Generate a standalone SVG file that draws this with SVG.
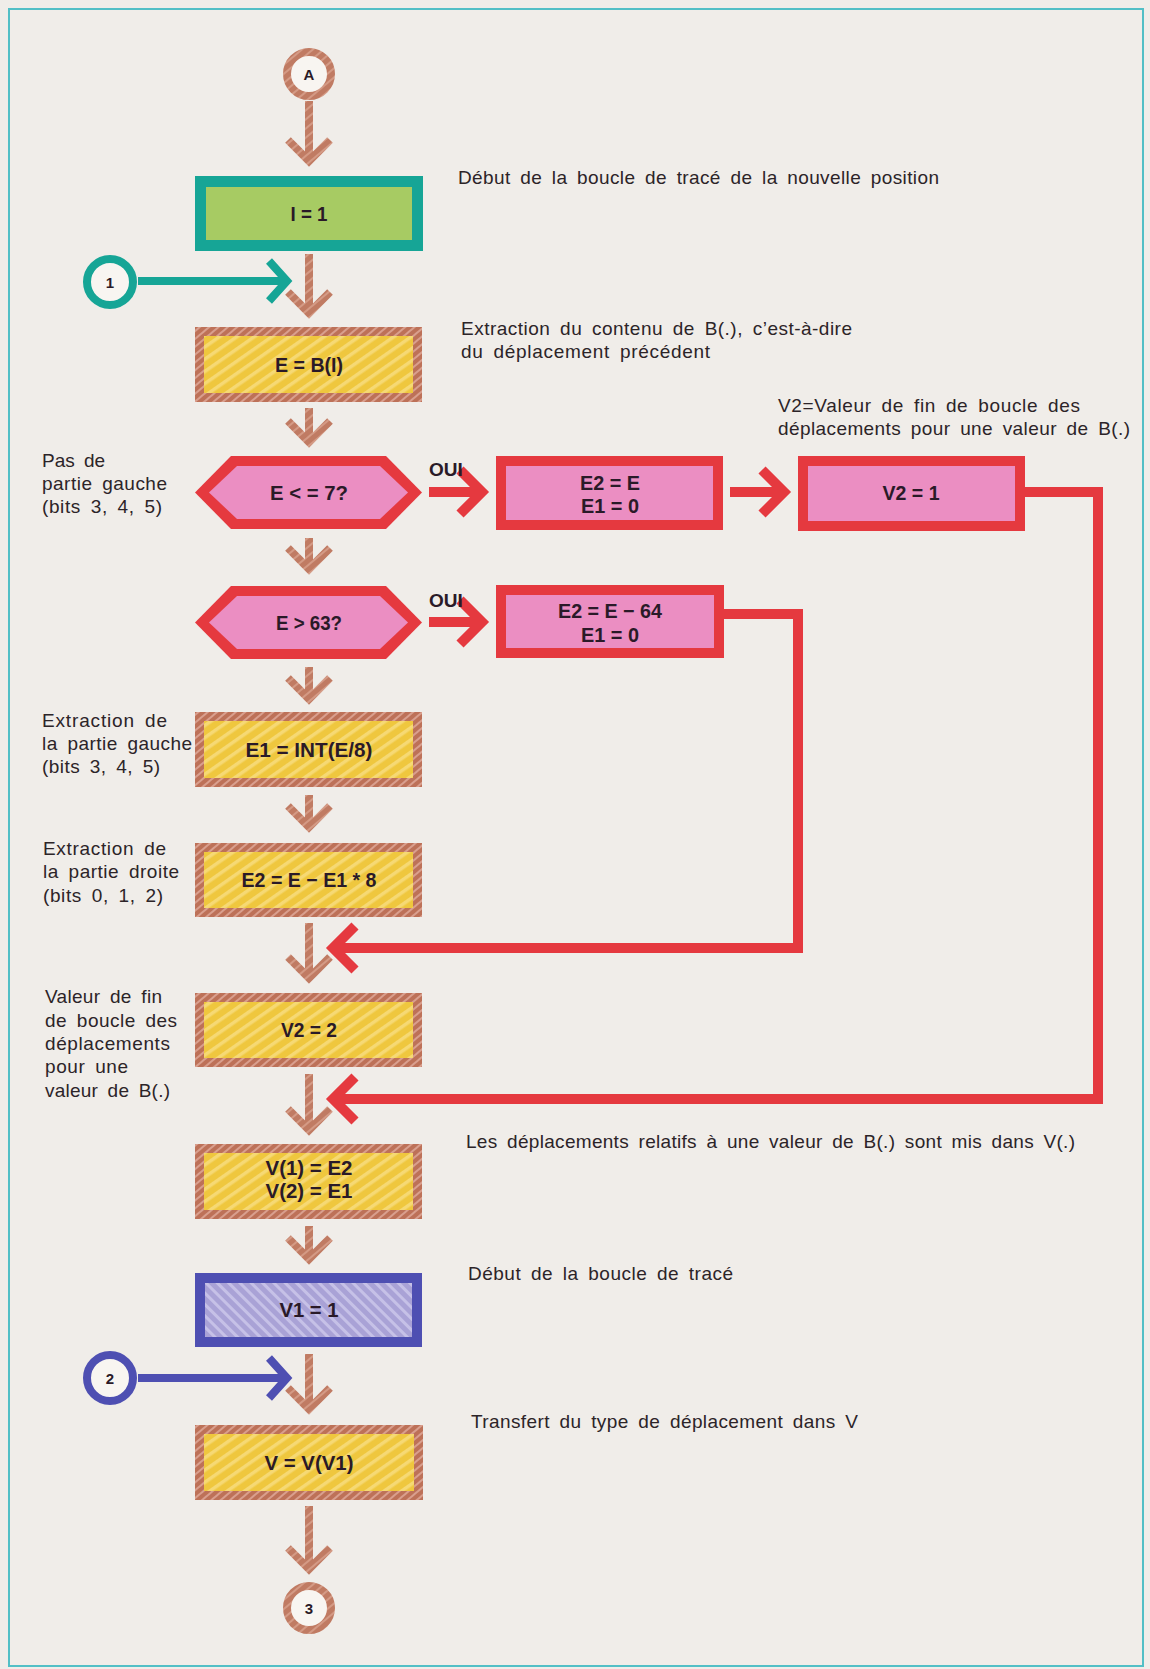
<svg xmlns="http://www.w3.org/2000/svg" width="1150" height="1669" viewBox="0 0 1150 1669">
  <defs>
    <!-- hatched fills -->
    <pattern id="yel" width="10" height="10" patternUnits="userSpaceOnUse" patternTransform="rotate(-35)">
      <rect width="10" height="10" fill="#efc73e"/>
      <rect width="10" height="3.5" fill="#f6d974"/>
    </pattern>
    <pattern id="brn" width="6" height="6" patternUnits="userSpaceOnUse" patternTransform="rotate(-40)">
      <rect width="6" height="6" fill="#bd7158"/>
      <rect width="6" height="2" fill="#d99f8e"/>
    </pattern>
    <pattern id="brnA" width="7" height="7" patternUnits="userSpaceOnUse" patternTransform="rotate(-40)">
      <rect width="7" height="7" fill="#c07b63"/>
      <rect width="7" height="2" fill="#d49a85"/>
    </pattern>
    <pattern id="lav" width="8" height="8" patternUnits="userSpaceOnUse" patternTransform="rotate(45)">
      <rect width="8" height="8" fill="#a9a2d6"/>
      <rect width="8" height="3" fill="#c6c1e7"/>
    </pattern>
    <style>
      .lbl { font-family: "Liberation Sans", Arial, sans-serif; font-size: 19px; word-spacing: 4px; fill: #2c2428; }
      .bx { font-family: "Liberation Sans", Arial, sans-serif; font-weight: bold; font-size: 20px; fill: #2a1a28; text-anchor: middle; }
      .cn { font-family: "Liberation Sans", Arial, sans-serif; font-weight: bold; font-size: 15px; fill: #2a1a28; text-anchor: middle; }
      .oui { font-family: "Liberation Sans", Arial, sans-serif; font-weight: bold; font-size: 19px; fill: #2a1a28; }
      .brnB { fill: url(#brn); }
      .yelF { fill: url(#yel); }
      .redB { fill: #e5393f; }
      .pinkF { fill: #eb8ec2; }
      .flow { fill: none; stroke: url(#brnA); stroke-width: 8; stroke-linejoin: miter; }
      .red { fill: none; stroke: #e5393f; stroke-width: 10; stroke-linejoin: miter; }
      .teal { fill: none; stroke: #16a596; stroke-width: 8; }
      .blue { fill: none; stroke: #4e4fb2; stroke-width: 8; }
      .ring { fill: #f8f5f1; stroke-width: 8; }
    </style>
  </defs>

  <!-- page -->
  <rect width="1150" height="1669" fill="#f0ede9"/>
  <rect x="9" y="9" width="1134" height="1657" fill="none" stroke="#52bfc6" stroke-width="2"/>

  <!-- connectors -->
  <g id="connectors">
    <path class="flow" d="M309 101 V161 M288 140 L309 161 L330 140"/>
    <path class="flow" d="M309 254 V313 M288 292 L309 313 L330 292"/>
    <path class="flow" d="M309 408 V442 M288 421 L309 442 L330 421"/>
    <path class="flow" d="M309 538 V569 M288 548 L309 569 L330 548"/>
    <path class="flow" d="M309 667 V699 M288 678 L309 699 L330 678"/>
    <path class="flow" d="M309 795 V827 M288 806 L309 827 L330 806"/>
    <path class="flow" d="M309 923 V978 M288 957 L309 978 L330 957"/>
    <path class="flow" d="M309 1074 V1130 M288 1109 L309 1130 L330 1109"/>
    <path class="flow" d="M309 1226 V1259 M288 1238 L309 1259 L330 1238"/>
    <path class="flow" d="M309 1354 V1409 M288 1388 L309 1409 L330 1388"/>
    <path class="flow" d="M309 1506 V1569 M288 1548 L309 1569 L330 1548"/>

    <path class="teal" d="M138 281 H286 M269 261 L287 281 L269 301"/>
    <path class="blue" d="M138 1378 H286 M269 1358 L287 1378 L269 1398"/>

    <path class="red" d="M429 492 H482 M460 470 L482 492 L460 514"/>
    <path class="red" d="M429 622 H482 M460 600 L482 622 L460 644"/>
    <path class="red" d="M730 492 H784 M762 470 L784 492 L762 514"/>
    <path class="red" d="M1025 492 H1098 V1099 H334 M355 1077 L333 1099 L355 1121"/>
    <path class="red" d="M724 614 H798 V948 H334 M355 926 L333 948 L355 970"/>
    <text class="oui" x="429" y="476">OUI</text>
    <text class="oui" x="429" y="607">OUI</text>
  </g>

  <!-- connector circles -->
  <g id="start-A">
    <circle class="ring" cx="309" cy="74" r="22" stroke="url(#brnA)"/>
    <text class="cn" x="309" y="80">A</text>
  </g>
  <g id="link-1">
    <circle class="ring" cx="110" cy="282" r="23" stroke="#16a596"/>
    <text class="cn" x="110" y="288">1</text>
  </g>
  <g id="link-2">
    <circle class="ring" cx="110" cy="1378" r="23" stroke="#4e4fb2"/>
    <text class="cn" x="110" y="1384">2</text>
  </g>
  <g id="end-3">
    <circle class="ring" cx="309" cy="1608" r="22" stroke="url(#brnA)"/>
    <text class="cn" x="309" y="1614">3</text>
  </g>

  <!-- process boxes -->
  <g id="n-i1">
    <rect x="195" y="176" width="228" height="75" fill="#16a596"/>
    <rect x="206" y="187" width="206" height="53" fill="#a7cb63"/>
    <text class="bx" x="309" y="221" textLength="37" lengthAdjust="spacingAndGlyphs">I = 1</text>
  </g>
  <g id="n-eb">
    <rect class="brnB" x="195" y="327" width="227" height="75"/>
    <rect class="yelF" x="204" y="336" width="209" height="57"/>
    <text class="bx" x="309" y="372" textLength="68" lengthAdjust="spacingAndGlyphs">E = B(I)</text>
  </g>
  <g id="n-le7">
    <polygon points="195,492.5 231,456 386,456 422,492.5 386,529 231,529" class="redB"/>
    <polygon points="209,492.5 237,466 380,466 408,492.5 380,519 237,519" class="pinkF"/>
    <text class="bx" x="309" y="500" textLength="78" lengthAdjust="spacingAndGlyphs">E &lt; = 7?</text>
  </g>
  <g id="n-gt63">
    <polygon points="195,622.5 231,586 386,586 422,622.5 386,659 231,659" class="redB"/>
    <polygon points="209,622.5 237,596 380,596 408,622.5 380,649 237,649" class="pinkF"/>
    <text class="bx" x="309" y="630" textLength="66" lengthAdjust="spacingAndGlyphs">E &gt; 63?</text>
  </g>
  <g id="n-e2e">
    <rect class="redB" x="496" y="456" width="227" height="74"/>
    <rect class="pinkF" x="506" y="466" width="207" height="54"/>
    <text class="bx" x="610" y="490" textLength="60" lengthAdjust="spacingAndGlyphs">E2 = E</text>
    <text class="bx" x="610" y="513" textLength="58" lengthAdjust="spacingAndGlyphs">E1 = 0</text>
  </g>
  <g id="n-v21">
    <rect class="redB" x="798" y="456" width="227" height="75"/>
    <rect class="pinkF" x="808" y="466" width="207" height="55"/>
    <text class="bx" x="911" y="500" textLength="57" lengthAdjust="spacingAndGlyphs">V2 = 1</text>
  </g>
  <g id="n-e64">
    <rect class="redB" x="496" y="585" width="228" height="73"/>
    <rect class="pinkF" x="506" y="595" width="208" height="53"/>
    <text class="bx" x="610" y="618" textLength="104" lengthAdjust="spacingAndGlyphs">E2 = E − 64</text>
    <text class="bx" x="610" y="642" textLength="58" lengthAdjust="spacingAndGlyphs">E1 = 0</text>
  </g>
  <g id="n-e1">
    <rect class="brnB" x="195" y="712" width="227" height="75"/>
    <rect class="yelF" x="204" y="721" width="209" height="57"/>
    <text class="bx" x="309" y="757" textLength="127" lengthAdjust="spacingAndGlyphs">E1 = INT(E/8)</text>
  </g>
  <g id="n-e2">
    <rect class="brnB" x="195" y="843" width="227" height="74"/>
    <rect class="yelF" x="204" y="852" width="209" height="56"/>
    <text class="bx" x="309" y="887" textLength="135" lengthAdjust="spacingAndGlyphs">E2 = E − E1 * 8</text>
  </g>
  <g id="n-v22">
    <rect class="brnB" x="195" y="993" width="227" height="74"/>
    <rect class="yelF" x="204" y="1002" width="209" height="56"/>
    <text class="bx" x="309" y="1037" textLength="56" lengthAdjust="spacingAndGlyphs">V2 = 2</text>
  </g>
  <g id="n-v">
    <rect class="brnB" x="195" y="1144" width="227" height="75"/>
    <rect class="yelF" x="204" y="1153" width="209" height="57"/>
    <text class="bx" x="309" y="1175" textLength="87" lengthAdjust="spacingAndGlyphs">V(1) = E2</text>
    <text class="bx" x="309" y="1198" textLength="87" lengthAdjust="spacingAndGlyphs">V(2) = E1</text>
  </g>
  <g id="n-v11">
    <rect x="195" y="1273" width="227" height="74" fill="#4e4fb2"/>
    <rect x="205" y="1283" width="207" height="54" fill="url(#lav)"/>
    <text class="bx" x="309" y="1317" textLength="59" lengthAdjust="spacingAndGlyphs">V1 = 1</text>
  </g>
  <g id="n-vv1">
    <rect class="brnB" x="195" y="1425" width="228" height="75"/>
    <rect class="yelF" x="204" y="1434" width="210" height="57"/>
    <text class="bx" x="309" y="1470" textLength="89" lengthAdjust="spacingAndGlyphs">V = V(V1)</text>
  </g>

  <!-- annotations -->
  <g id="notes">
    <text class="lbl" x="458" y="184" textLength="481">Début de la boucle de tracé de la nouvelle position</text>
    <text class="lbl" x="461" y="335" textLength="391">Extraction du contenu de B(.), c’est-à-dire</text>
    <text class="lbl" x="461" y="358" textLength="249">du déplacement précédent</text>
    <text class="lbl" x="778" y="412" textLength="302">V2=Valeur de fin de boucle des</text>
    <text class="lbl" x="778" y="435" textLength="352">déplacements pour une valeur de B(.)</text>
    <text class="lbl" x="466" y="1148" textLength="609">Les déplacements relatifs à une valeur de B(.) sont mis dans V(.)</text>
    <text class="lbl" x="468" y="1280" textLength="265">Début de la boucle de tracé</text>
    <text class="lbl" x="471" y="1428" textLength="387">Transfert du type de déplacement dans V</text>

    <text class="lbl" x="42" y="467" textLength="63">Pas de</text>
    <text class="lbl" x="42" y="490" textLength="125">partie gauche</text>
    <text class="lbl" x="42" y="513" textLength="120">(bits 3, 4, 5)</text>

    <text class="lbl" x="42" y="727" textLength="125">Extraction de</text>
    <text class="lbl" x="42" y="750" textLength="150">la partie gauche</text>
    <text class="lbl" x="42" y="773" textLength="118">(bits 3, 4, 5)</text>

    <text class="lbl" x="43" y="855" textLength="123">Extraction de</text>
    <text class="lbl" x="43" y="878" textLength="136">la partie droite</text>
    <text class="lbl" x="43" y="902" textLength="120">(bits 0, 1, 2)</text>

    <text class="lbl" x="45" y="1003" textLength="117">Valeur de fin</text>
    <text class="lbl" x="45" y="1027" textLength="132">de boucle des</text>
    <text class="lbl" x="45" y="1050" textLength="125">déplacements</text>
    <text class="lbl" x="45" y="1073" textLength="83">pour une</text>
    <text class="lbl" x="45" y="1097" textLength="125">valeur de B(.)</text>
  </g>
</svg>
